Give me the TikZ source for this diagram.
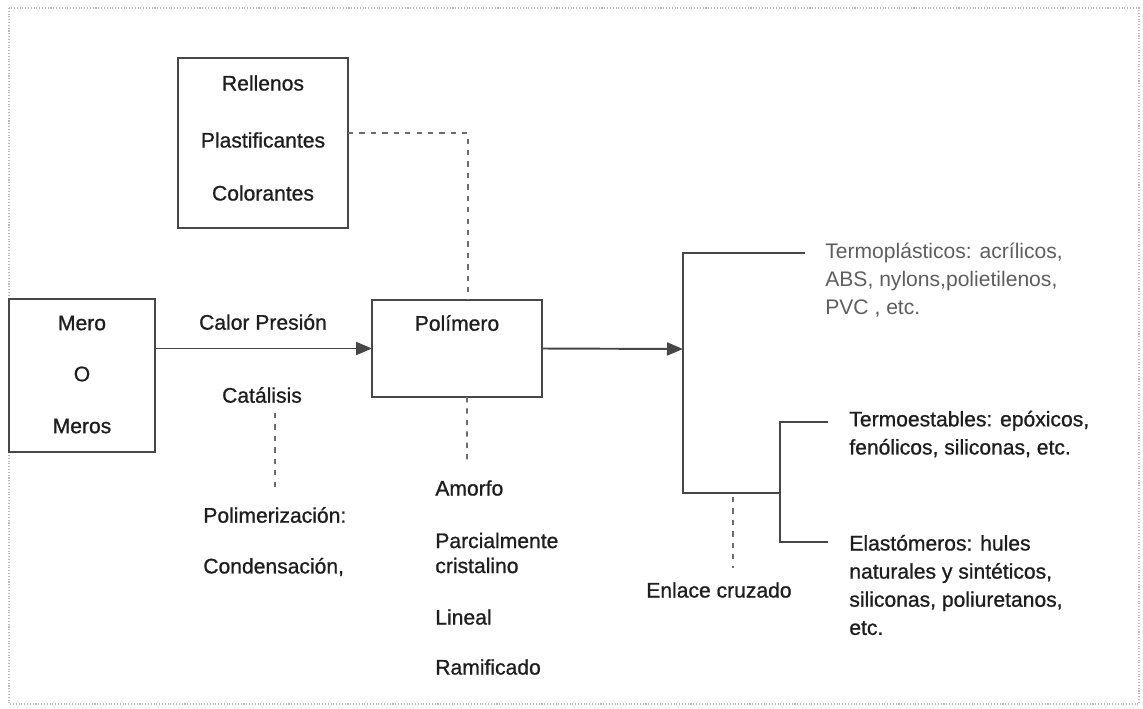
\documentclass[tikz,border=0pt]{standalone}
\usepackage{fontspec}
\setmainfont{Liberation Sans}
\newfontfamily\grueso{Liberation Sans}[FakeBold=0.9]
\usetikzlibrary{arrows.meta}
\definecolor{linea}{HTML}{474747}
\definecolor{tinta}{HTML}{1E1E1E}
\definecolor{claro}{HTML}{5E5E5E}
\tikzset{caja/.style={draw=linea,line width=1.1pt,inner sep=0pt,outer sep=0pt},
 texto/.style={font=\grueso\fontsize{12}{16}\selectfont,text=tinta,inner sep=0pt},
 gris/.style={texto,font=\normalfont\fontsize{12}{16}\selectfont,text=claro},
 flecha/.style={draw=linea,line width=1.1pt,-{Triangle[length=3.2mm,width=2.6mm]}},
 rama/.style={draw=linea,line width=1.1pt},
 guion/.style={draw=linea!80,line width=1pt,dash pattern=on 3pt off 3.5pt},
 marco/.style={draw=gray!55,line width=0.6pt,densely dotted},
 }

\begin{document}
\begin{tikzpicture}[x=0.02cm,y=-0.02cm]
    \useasboundingbox (0,0) rectangle (1143,708);
    \draw[marco] (9,8) rectangle (1139,704);

    % cajas
    \node[caja,minimum width=3.4cm,minimum height=3.4cm] (aditivos) at (263,143) {};
    \node[caja,minimum width=2.92cm,minimum height=3.06cm] (mero) at (82,375.5) {};
    \node[caja,minimum width=3.4cm,minimum height=1.94cm] (polimero) at (457,348.5) {};

    \foreach \t/\y[count=\i] in {Rellenos/83, Plastificantes/140, Colorantes/193}
        \node[texto] (aditivo\i) at (263,\y) {\t};
    \foreach \t/\y[count=\i] in {Mero/323, O/374, Meros/426}
        \node[texto] (mero\i) at (82,\y) {\t};
    \node[texto] (polimerotxt) at (457,323) {Polímero};

    \node[texto] (calor) at (263,322) {Calor Presión};
    \node[texto] (catalisis) at (262,395) {Catálisis};
    \node[texto,anchor=west] (polimerizacion) at (203,515) {Polimerización:};
    \node[texto,anchor=west] (condensacion) at (203,567) {Condensación,};

    \node[texto,anchor=west] (amorfo) at (435,488) {Amorfo};
    \node[texto,anchor=west,align=left,font=\grueso\fontsize{12}{14.2}\selectfont] (parcial) at (435,553) {Parcialmente\\cristalino};
    \node[texto,anchor=west] (lineal) at (435,617) {Lineal};
    \node[texto,anchor=west] (ramificado) at (435,667) {Ramificado};

    \node[gris,anchor=west,align=left] (termoplas) at (825,280)
        {Termoplásticos: acrílicos,\\ABS, nylons,polietilenos,\\PVC , etc.};
    \node[texto,anchor=west,align=left] (termoest) at (849,434)
        {Termoestables: epóxicos,\\fenólicos, siliconas, etc.};
    \node[texto,anchor=west,align=left] (elasto) at (849,585)
        {Elastómeros: hules\\naturales y sintéticos,\\siliconas, poliuretanos,\\etc.};
    \node[texto,anchor=east] (enlace) at (792,590) {Enlace cruzado};

    % ramas
    \coordinate (r0) at (683,349);
    \coordinate (r1) at (683,253);
    \coordinate (r2) at (683,493);
    \coordinate (r3) at (780,493);
    \coordinate (r4) at (780,422);
    \coordinate (r5) at (780,542);

    \draw[flecha] (mero.east |- polimero.west) -- (polimero.west);
    \draw[flecha] (polimero.east) -- (r0);
    \draw[rama] (805,253) -- (r1) -- (r2) -- (r3);
    \draw[rama] (828,422) -- (r4) -- (r5) -- (828,542);

    % lineas punteadas
    \draw[guion] ([yshift=2mm]aditivos.east) -| ([xshift=2.2mm]polimero.north);
    \draw[guion] (275,413) -- (275,487);
    \draw[guion] ([xshift=2mm]polimero.south) -- (467,460);
    \draw[guion] (733,497) -- (733,568);
\end{tikzpicture}
\end{document}
